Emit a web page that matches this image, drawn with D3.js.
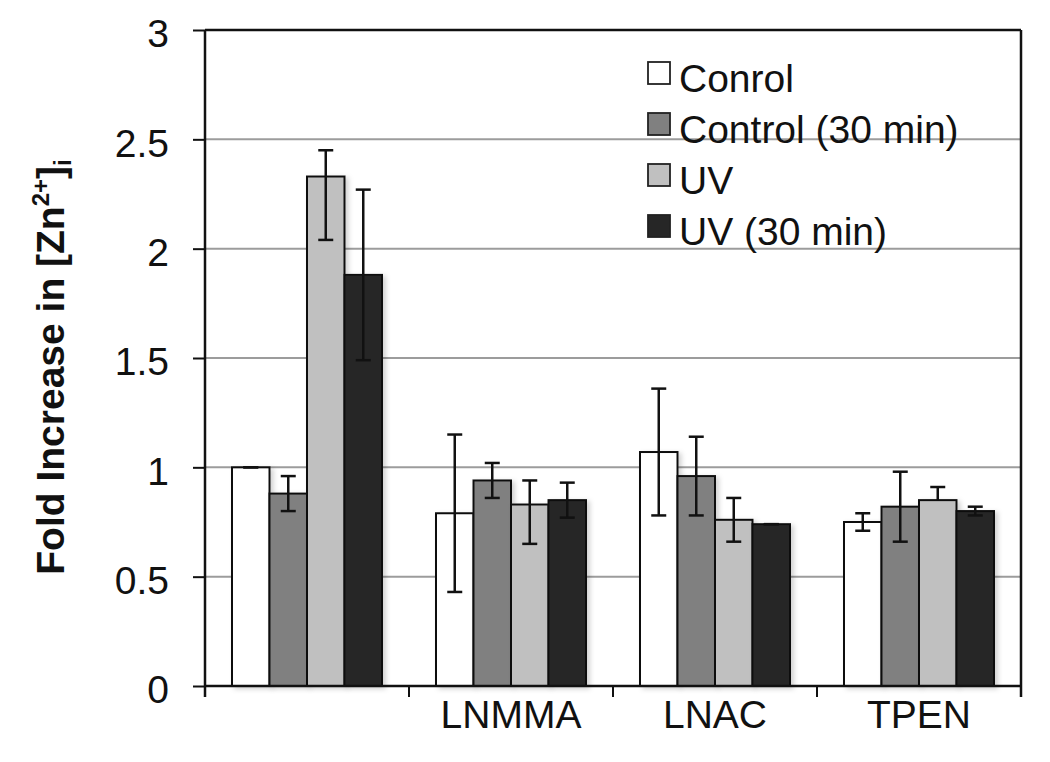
<!DOCTYPE html>
<html>
<head>
<meta charset="utf-8">
<script src="https://cdn.jsdelivr.net/npm/d3@7"></script>
<style>
  html, body { margin: 0; padding: 0; background: #fff; }
  svg { display: block; font-family: "Liberation Sans", Arial, sans-serif; }
</style>
</head>
<body>
<svg id="chart" width="1050" height="762"></svg>
<script>
// ---- Data ----
const categories = ["", "LNMMA", "LNAC", "TPEN"];
const seriesNames = ["Conrol", "Control (30 min)", "UV", "UV (30 min)"];
const seriesColors = ["#ffffff", "#808080", "#c0c0c0", "#262626"];

const conrol    = [1.00, 0.79, 1.07, 0.75];
const control30 = [0.88, 0.94, 0.96, 0.82];
const uv        = [2.33, 0.83, 0.76, 0.85];
const uv30      = [1.88, 0.85, 0.74, 0.80];

const conrolLo    = [1.00, 0.43, 0.78, 0.71];
const conrolHi    = [1.00, 1.15, 1.36, 0.79];
const control30Lo = [0.80, 0.86, 0.78, 0.66];
const control30Hi = [0.96, 1.02, 1.14, 0.98];
const uvLo        = [2.04, 0.65, 0.66, 0.85];
const uvHi        = [2.45, 0.94, 0.86, 0.91];
const uv30Lo      = [1.49, 0.77, 0.74, 0.78];
const uv30Hi      = [2.27, 0.93, 0.74, 0.82];

const yTicks = [0, 0.5, 1, 1.5, 2, 2.5, 3];

(function () {
const values = [conrol, control30, uv, uv30];
const lows = [conrolLo, control30Lo, uvLo, uv30Lo];
const highs = [conrolHi, control30Hi, uvHi, uv30Hi];

const rows = [];
categories.forEach((c, ci) => {
  seriesNames.forEach((s, si) => {
    rows.push({cat: c, ci, series: s, si, v: values[si][ci], lo: lows[si][ci], hi: highs[si][ci]});
  });
});

// ---- Layout ----
const svg = d3.select("#chart");
const pL = 205, pR = 1021, pT = 30, pB = 686;

const x0 = d3.scaleBand().domain(d3.range(categories.length)).range([pL, pR]).padding(0);
const x1 = d3.scaleBand().domain(d3.range(seriesNames.length)).range([0, x0.bandwidth()])
  .paddingInner(0).paddingOuter(0.72);
const y = d3.scaleLinear().domain([0, 3]).range([pB, pT]);

const defs = svg.append("defs");
const f = defs.append("filter").attr("id", "shadow").attr("x", "-20%").attr("y", "-20%").attr("width", "150%").attr("height", "150%");
f.append("feDropShadow").attr("dx", 3).attr("dy", 2).attr("stdDeviation", 2.5)
  .attr("flood-color", "#000").attr("flood-opacity", 0.18);

// gridlines
svg.append("g").selectAll("line")
  .data(yTicks.filter(t => t > 0 && t < 3))
  .join("line")
  .attr("x1", pL).attr("x2", pR)
  .attr("y1", d => y(d)).attr("y2", d => y(d))
  .attr("stroke", "#9c9c9c").attr("stroke-width", 2);

// bars
svg.append("g").selectAll("rect")
  .data(rows)
  .join("rect")
  .attr("x", d => x0(d.ci) + x1(d.si))
  .attr("y", d => y(d.v))
  .attr("width", x1.bandwidth())
  .attr("height", d => y(0) - y(d.v))
  .attr("fill", d => seriesColors[d.si])
  .attr("stroke", "#111")
  .attr("stroke-width", 2)
  .attr("filter", "url(#shadow)");

// error bars
const eb = svg.append("g").attr("stroke", "#111").attr("stroke-width", 2.5);
const cx = d => x0(d.ci) + x1(d.si) + x1.bandwidth() / 2;
eb.selectAll("line.v").data(rows).join("line").attr("class", "v")
  .attr("x1", cx).attr("x2", cx)
  .attr("y1", d => y(d.lo)).attr("y2", d => y(d.hi));
eb.selectAll("line.hi").data(rows).join("line").attr("class", "hi")
  .attr("x1", d => cx(d) - 7.5).attr("x2", d => cx(d) + 7.5)
  .attr("y1", d => y(d.hi)).attr("y2", d => y(d.hi));
eb.selectAll("line.lo").data(rows.filter(d => d.lo < d.v || d.lo === d.hi)).join("line").attr("class", "lo")
  .attr("x1", d => cx(d) - 7.5).attr("x2", d => cx(d) + 7.5)
  .attr("y1", d => y(d.lo)).attr("y2", d => y(d.lo));

// y axis
const yAxis = d3.axisLeft(y).tickValues(yTicks).tickFormat(d3.format("")).tickSize(12).tickPadding(24);
const gy = svg.append("g").attr("transform", `translate(${pL},0)`).call(yAxis);
gy.select(".domain").remove();
gy.selectAll(".tick line").attr("stroke", "#111").attr("stroke-width", 2);
gy.selectAll(".tick text").attr("font-size", 39).attr("fill", "#111")
  .attr("font-family", "'Liberation Sans', Arial, sans-serif").attr("dy", "0.43em");
gy.append("line").attr("x1", 0).attr("x2", 0).attr("y1", pT).attr("y2", pB + 11)
  .attr("stroke", "#111").attr("stroke-width", 2.5);

// x axis
const xTickPos = d3.range(categories.length + 1).map(i => pL + i * x0.bandwidth());
const gx = svg.append("g");
gx.append("line").attr("x1", pL).attr("x2", pR).attr("y1", pB).attr("y2", pB)
  .attr("stroke", "#111").attr("stroke-width", 2.5);
gx.selectAll("line.tk").data(xTickPos).join("line").attr("class", "tk")
  .attr("x1", d => d).attr("x2", d => d).attr("y1", pB).attr("y2", pB + 11)
  .attr("stroke", "#111").attr("stroke-width", 2);
gx.selectAll("text").data(categories).join("text")
  .attr("x", (d, i) => x0(i) + x0.bandwidth() / 2)
  .attr("y", 728)
  .attr("text-anchor", "middle")
  .attr("font-size", 39)
  .attr("fill", "#111")
  .text(d => d);

// plot border top & right
svg.append("line").attr("x1", pL).attr("x2", pR).attr("y1", pT).attr("y2", pT)
  .attr("stroke", "#111").attr("stroke-width", 2.5);
svg.append("line").attr("x1", pR).attr("x2", pR).attr("y1", pT).attr("y2", pB + 11)
  .attr("stroke", "#111").attr("stroke-width", 2.5);

// y title
const yt = svg.append("text")
  .attr("transform", `translate(64,367) rotate(-90)`)
  .attr("text-anchor", "middle")
  .attr("font-size", 39)
  .attr("font-weight", "bold")
  .attr("fill", "#111");
yt.append("tspan").text("Fold Increase in [Zn");
yt.append("tspan").attr("font-size", 24).attr("dy", "-15").text("2+");
yt.append("tspan").attr("dy", "15").text("]");
yt.append("tspan").attr("font-size", 24).attr("dy", "7").text("i");

// legend
const lg = svg.append("g");
const legendRows = seriesNames.map((s, i) => ({s, i}));
lg.selectAll("rect").data(legendRows).join("rect")
  .attr("x", 648).attr("y", d => 62 + d.i * 51)
  .attr("width", 22).attr("height", 22)
  .attr("fill", d => seriesColors[d.i])
  .attr("stroke", "#222").attr("stroke-width", 1.8);
lg.selectAll("text").data(legendRows).join("text")
  .attr("x", 679).attr("y", d => 92 + d.i * 51)
  .attr("font-size", 39)
  .attr("fill", "#111")
  .text(d => d.s);
})();
</script>
</body>
</html>
